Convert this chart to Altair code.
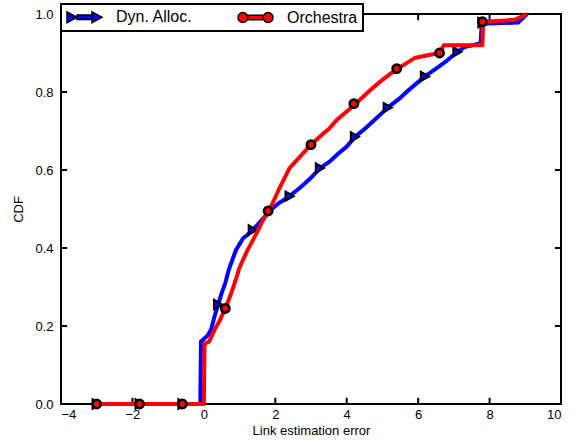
import altair as alt
import pandas as pd

# ---- data ----
series = ["Dyn. Alloc.", "Orchestra"]
colors = ["#0000ff", "#ff0000"]

dyn_x = [-3, -0.1, -0.08, 0.1, 0.2, 0.3, 0.4, 0.5, 0.6, 0.7, 0.8, 0.9, 1.0, 1.1, 1.2, 1.37,
         1.6, 1.9, 2.1, 2.4, 2.7, 3.0, 3.25, 3.5, 3.8, 4.0, 4.23, 4.5, 4.8, 5.15, 5.5, 5.8,
         6.19, 6.5, 6.8, 7.1, 7.3, 7.75, 7.78, 8.8, 9.05]
dyn_y = [0, 0, 0.16, 0.175, 0.19, 0.225, 0.255, 0.285, 0.31, 0.345, 0.37, 0.395, 0.41, 0.425,
         0.432, 0.446, 0.47, 0.5, 0.515, 0.533, 0.555, 0.58, 0.605, 0.62, 0.645, 0.66, 0.685,
         0.705, 0.73, 0.76, 0.785, 0.81, 0.84, 0.86, 0.88, 0.903, 0.915, 0.925, 0.975, 0.978, 1.0]

orc_x = [-3, 0.0, 0.02, 0.15, 0.3, 0.45, 0.6, 0.75, 0.9, 1.0, 1.2, 1.47, 1.65, 1.85, 2.1, 2.4,
         2.7, 3.0, 3.3, 3.5, 3.72, 4.0, 4.28, 4.6, 4.93, 5.2, 5.43, 5.9, 6.3, 6.6, 6.72, 7.8,
         7.82, 8.7, 9.05]
orc_y = [0, 0, 0.155, 0.16, 0.19, 0.215, 0.245, 0.28, 0.32, 0.35, 0.39, 0.437, 0.47, 0.5, 0.55,
         0.605, 0.635, 0.665, 0.69, 0.705, 0.728, 0.75, 0.772, 0.8, 0.826, 0.845, 0.86, 0.887,
         0.895, 0.9, 0.92, 0.92, 0.98, 0.985, 1.0]

dyn_mx = [-3, -1.8, -0.6, 0.4, 1.37, 2.4, 3.25, 4.23, 5.15, 6.19, 7.1, 7.8]
dyn_my = [0, 0, 0, 0.255, 0.446, 0.533, 0.605, 0.685, 0.76, 0.84, 0.903, 0.978]
orc_mx = [-3, -1.8, -0.6, 0.6, 1.8, 3.0, 4.2, 5.4, 6.6, 7.8]
orc_my = [0, 0, 0, 0.245, 0.495, 0.665, 0.77, 0.86, 0.90, 0.98]

x_ticks = [-4, -2, 0, 2, 4, 6, 8, 10]
y_ticks = [0.0, 0.2, 0.4, 0.6, 0.8, 1.0]
x_inner_ticks = [-2, 0, 2, 4, 6, 8]
y_inner_ticks = [0.2, 0.4, 0.6, 0.8]

# legend symbols: line with a marker at each end (unit paths)
dyn_legend_path = ("M-1,-0.78L0.43,0L-1,0.78Z M2.57,-0.78L4,0L2.57,0.78Z "
                   "M0.43,-0.32H2.57V0.32H0.43Z")
orc_legend_path = ("M-1,0A0.7,0.7,0,1,1,0.4,0A0.7,0.7,0,1,1,-1,0Z "
                   "M2.6,0A0.7,0.7,0,1,1,4,0A0.7,0.7,0,1,1,2.6,0Z "
                   "M0.4,-0.32H2.6V0.32H0.4Z")

FONT = "Liberation Sans"

dyn_line = pd.DataFrame({"x": dyn_x, "y": dyn_y, "i": range(len(dyn_x))})
orc_line = pd.DataFrame({"x": orc_x, "y": orc_y, "i": range(len(orc_x))})
dyn_mk = pd.DataFrame({"x": dyn_mx, "y": dyn_my, "series": series[0]})
orc_mk = pd.DataFrame({"x": orc_mx, "y": orc_my, "series": series[1]})
all_mk = pd.concat([dyn_mk, orc_mk], ignore_index=True)

xscale = alt.Scale(domain=[-4, 10], nice=False, zero=False)
yscale = alt.Scale(domain=[0, 1], nice=False, zero=False)

X = alt.X("x:Q", scale=xscale,
          axis=alt.Axis(values=x_ticks, title="Link estimation error", labelPadding=4,
                        titlePadding=3))
Y = alt.Y("y:Q", scale=yscale,
          axis=alt.Axis(values=y_ticks, format=".1f", title="CDF", labelPadding=8,
                        titlePadding=9))

def line_layer(df, color):
    return alt.Chart(df).mark_line(color=color, strokeWidth=4, strokeJoin="round").encode(
        x=X, y=Y, order=alt.Order("i:Q"))

blue_line = line_layer(dyn_line, colors[0])
red_line = line_layer(orc_line, colors[1])

blue_pts = alt.Chart(dyn_mk).mark_point(
    shape="triangle-right", size=90, filled=True, fill=colors[0], stroke="black",
    strokeWidth=2, opacity=1).encode(x=X, y=Y)
red_pts = alt.Chart(orc_mk).mark_point(
    shape="circle", size=70, filled=True, fill=colors[1], stroke="black",
    strokeWidth=2.5, opacity=1).encode(x=X, y=Y)

legend_layer = alt.Chart(all_mk).mark_point(
    filled=True, opacity=0, stroke="black", strokeWidth=1.5).encode(
    x=X, y=Y,
    fill=alt.Fill("series:N", scale=alt.Scale(domain=series, range=colors),
                  legend=alt.Legend(title=None, orient="none", legendX=0, legendY=-10,
                                    direction="horizontal")),
    shape=alt.Shape("series:N",
                    scale=alt.Scale(domain=series, range=[dyn_legend_path, orc_legend_path]),
                    legend=alt.Legend(title=None, orient="none", legendX=0, legendY=-10,
                                      direction="horizontal")),
)

xtick_df = pd.DataFrame({"t": x_inner_ticks})
ytick_df = pd.DataFrame({"t": y_inner_ticks})
tick_style = dict(color="black", strokeWidth=2)

bottom_ticks = alt.Chart(xtick_df).mark_rule(**tick_style).encode(
    x=alt.X("t:Q", scale=xscale), y=alt.datum(0, scale=yscale), y2=alt.datum(0.016))
top_ticks = alt.Chart(xtick_df).mark_rule(**tick_style).encode(
    x=alt.X("t:Q", scale=xscale), y=alt.datum(1, scale=yscale), y2=alt.datum(0.984))
left_ticks = alt.Chart(ytick_df).mark_rule(**tick_style).encode(
    y=alt.Y("t:Q", scale=yscale), x=alt.datum(-4, scale=xscale), x2=alt.datum(-3.83))
right_ticks = alt.Chart(ytick_df).mark_rule(**tick_style).encode(
    y=alt.Y("t:Q", scale=yscale), x=alt.datum(10, scale=xscale), x2=alt.datum(9.83))

chart = alt.layer(
    bottom_ticks, top_ticks, left_ticks, right_ticks,
    blue_line, blue_pts, red_line, red_pts, legend_layer,
).properties(
    width=500, height=390,
    autosize=alt.AutoSizeParams(type="none"),
    padding={"left": 61, "top": 14, "right": 13, "bottom": 39},
).configure_view(
    stroke="black", strokeWidth=2
).configure_axis(
    domain=False, ticks=False, grid=False,
    labelFont=FONT, labelFontSize=13, labelColor="black",
    titleFont=FONT, titleFontSize=13, titleColor="black", titleFontWeight="normal",
).configure_legend(
    labelFont=FONT, labelFontSize=16, labelColor="black",
    symbolSize=196, symbolOpacity=1, symbolStrokeWidth=1.5,
    labelOffset=34, columnPadding=42, padding=5,
    strokeColor="black", fillColor="white", strokeWidth=2,
)

chart.save("out.html", embed_options={"renderer": "svg", "actions": False})
